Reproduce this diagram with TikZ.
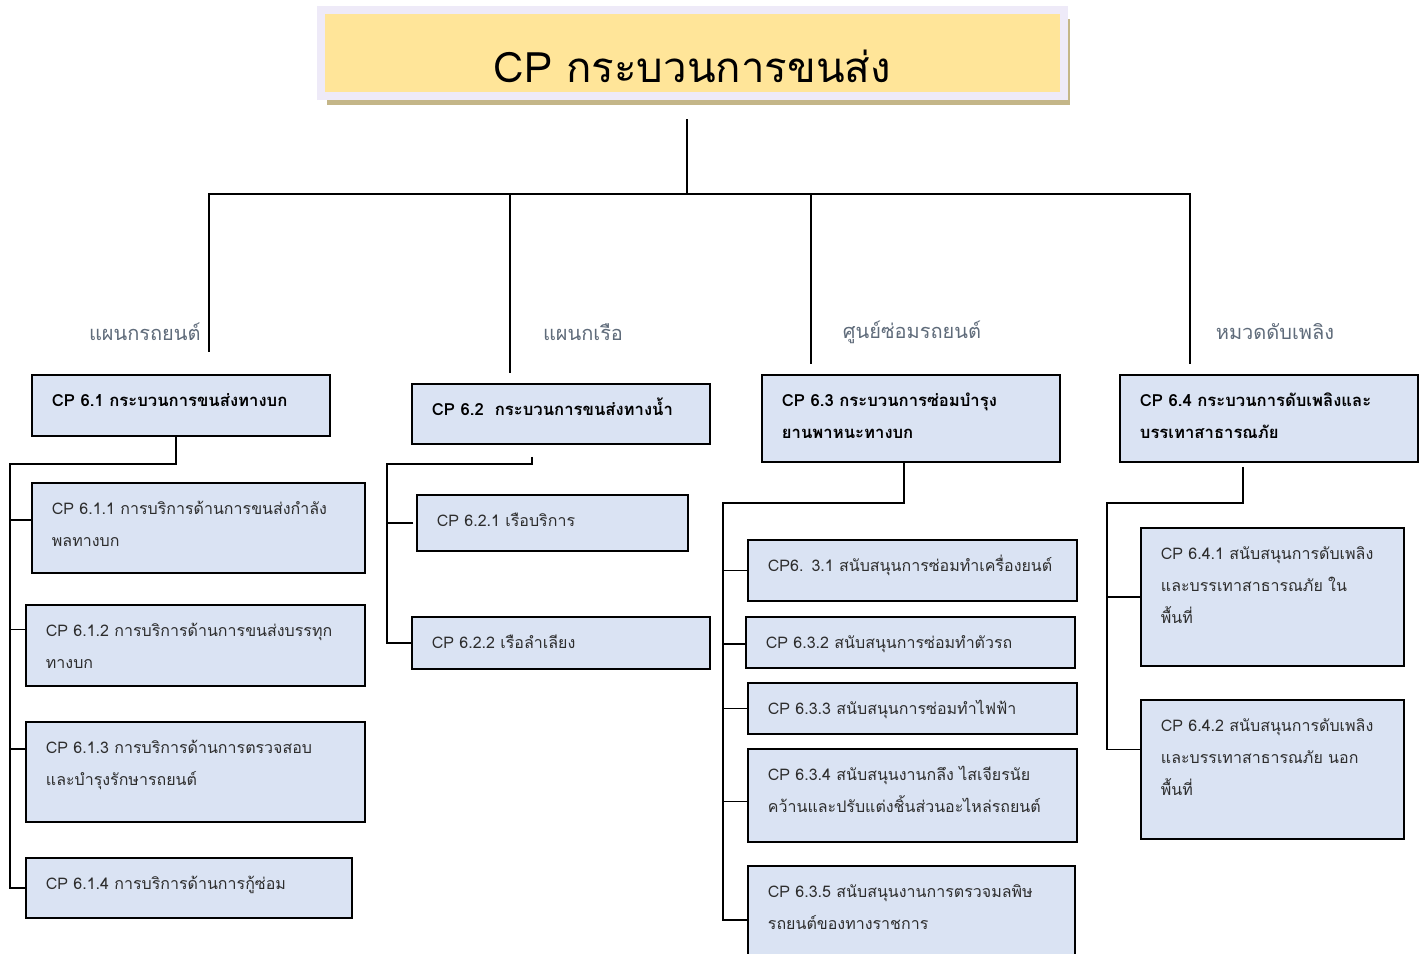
\documentclass[tikz,border=0pt]{standalone}
\usepackage{fontspec}
\setmainfont[Script=Thai]{Loma}
\usetikzlibrary{shadows}
\definecolor{boxblue}{RGB}{218,227,243}
\definecolor{titleyellow}{RGB}{255,229,153}
\definecolor{titlelilac}{RGB}{238,234,248}
\definecolor{shadowtan}{RGB}{196,182,136}
\definecolor{labelgray}{RGB}{95,107,122}
\definecolor{textgray}{RGB}{45,45,45}

\begin{document}
\begin{tikzpicture}[x=0.75pt, y=-0.75pt, line width=1.4pt,
    titlebox/.style={draw=titlelilac, line width=6pt, fill=titleyellow,
      drop shadow={shadow xshift=4.5pt, shadow yshift=-7pt, fill=shadowtan, opacity=1},
      minimum width=557.25pt, inner sep=0pt, text height=54pt, text depth=10.5pt,
      font=\fontsize{31.5}{36}\selectfont},
    unitlabel/.style={text=labelgray, font=\fontsize{15}{18}\selectfont},
    box/.style={draw, fill=boxblue, anchor=north west, align=left,
      inner xsep=15pt, inner ysep=0pt, text height=24pt},
    dept/.style={box, text width=193.5pt, font=\fontsize{12.5}{24}\selectfont\bfseries},
    task/.style={box, text=textgray, font=\fontsize{12}{24}\selectfont}]
  \path[use as bounding box, clip] (0,0) rectangle (1424,953);

  \node[titlebox] (top) at (692.5,53) {CP กระบวนการขนส่ง};

  \node[unitlabel, anchor=east] (lab61) at (206,332) {แผนกรถยนต์};
  \node[unitlabel] (lab62) at (583,332) {แผนกเรือ};
  \node[unitlabel] (lab63) at (912,332) {ศูนย์ซ่อมรถยนต์};
  \node[unitlabel] (lab64) at (1275,332) {หมวดดับเพลิง};

  \node[dept, text depth=21.75pt] (n61) at (31,374) {CP 6.1 กระบวนการขนส่งทางบก};
  \node[dept, text depth=21pt] (n62) at (411,383) {CP 6.2\ \ กระบวนการขนส่งทางน้ำ};
  \node[dept, text depth=41.25pt] (n63) at (761,374) {CP 6.3 กระบวนการซ่อมบำรุง\\ยานพาหนะทางบก};
  \node[dept, text depth=41.25pt] (n64) at (1119,374) {CP 6.4 กระบวนการดับเพลิงและ\\บรรเทาสาธารณภัย};

  \node[task, text width=219.75pt, text depth=43.5pt] (n611) at (31,482) {CP 6.1.1 การบริการด้านการขนส่งกำลัง\\พลทางบก};
  \node[task, text width=224.25pt, text depth=36.75pt] (n612) at (25,604) {CP 6.1.2 การบริการด้านการขนส่งบรรทุก\\ทางบก};
  \node[task, text width=224.25pt, text depth=51pt] (n613) at (25,721) {CP 6.1.3 การบริการด้านการตรวจสอบ\\และบำรุงรักษารถยนต์};
  \node[task, text width=214.5pt, text depth=21pt] (n614) at (25,857) {CP 6.1.4 การบริการด้านการกู้ซ่อม};

  \node[task, text width=173.25pt, text depth=18pt] (n621) at (416,494) {CP 6.2.1 เรือบริการ};
  \node[task, text width=193.5pt, text depth=15pt] (n622) at (411,616) {CP 6.2.2 เรือลำเลียง};

  \node[task, text width=216.75pt, text depth=21.75pt] (n631) at (747,539) {CP6. 3.1 สนับสนุนการซ่อมทำเครื่องยนต์};
  \node[task, text width=216.75pt, text depth=14.25pt] (n632) at (745,616) {CP 6.3.2 สนับสนุนการซ่อมทำตัวรถ};
  \node[task, text width=216.75pt, text depth=14.25pt] (n633) at (747,682) {CP 6.3.3 สนับสนุนการซ่อมทำไฟฟ้า};
  \node[task, text width=216.75pt, text depth=45.75pt] (n634) at (747,748) {CP 6.3.4 สนับสนุนงานกลึง ไสเจียรนัย\\คว้านและปรับแต่งชิ้นส่วนอะไหล่รถยนต์};
  \node[task, text width=215.25pt, text depth=57pt] (n635) at (747,865) {CP 6.3.5 สนับสนุนงานการตรวจมลพิษ\\รถยนต์ของทางราชการ};

  \node[task, text width=167.25pt, text depth=79.5pt] (n641) at (1140,527) {CP 6.4.1 สนับสนุนการดับเพลิง\\และบรรเทาสาธารณภัย ใน\\พื้นที่};
  \node[task, text width=167.25pt, text depth=80.25pt] (n642) at (1140,699) {CP 6.4.2 สนับสนุนการดับเพลิง\\และบรรเทาสาธารณภัย นอก\\พื้นที่};

  \coordinate (hub) at (687,194);
  \coordinate (d61) at (209,352);
  \coordinate (d62) at (510,373);
  \coordinate (d63) at (811,364);
  \coordinate (d64) at (1190,364);
  \draw (top.south -| hub) ++(0,19) -- (hub);
  \foreach \d in {d61,d62,d63,d64}
    \draw (hub) -| (\d);

  \coordinate (b61) at (10,464);
  \coordinate (b62) at (387,464);
  \coordinate (b63) at (723,503);
  \coordinate (b64) at (1107,503);

  \draw ([xshift=-3.75pt]n61.south) |- (b61) |- (n614.west);
  \foreach \n/\dy in {n611/6pt, n612/12pt, n613/17pt}
    \draw ([yshift=\dy]\n.west) -| (b61);

  \draw ([xshift=-21.75pt, yshift=-9pt]n62.south) |- (b62) |- (n622.west);
  \draw ([xshift=-2pt]n621.west) -| (b62);

  \draw ([xshift=-5.25pt]n63.south) |- (b63) |- (n635.west);
  \foreach \n/\dy in {n631/0pt, n632/-1pt, n633/0pt, n634/-4.5pt}
    \draw ([yshift=\dy]\n.west) -| (b63);

  \draw ([xshift=-19.5pt, yshift=-3pt]n64.south) |- (b64) |- ([yshift=15pt]n642.west);
  \draw (n641.west) -| (b64);
\end{tikzpicture}
\end{document}
